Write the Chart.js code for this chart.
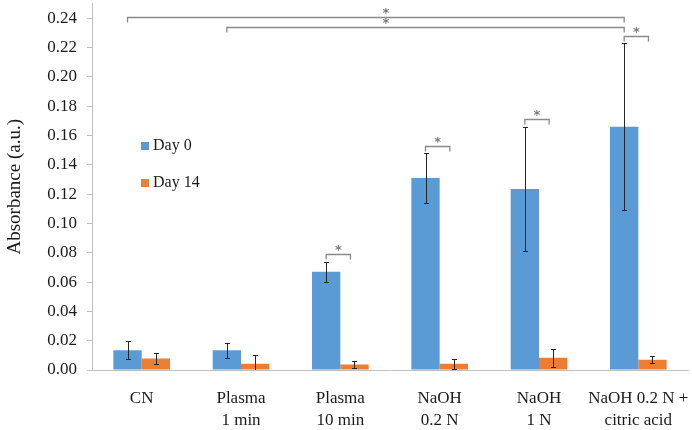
<!DOCTYPE html>
<html><head><meta charset="utf-8">
<script src="https://cdn.jsdelivr.net/npm/chart.js@4.4.0/dist/chart.umd.min.js"></script>
<style>html,body{margin:0;padding:0;background:#fff}#wrap{width:692px;height:430px}</style>
</head><body><div id="wrap"><canvas id="c" width="692" height="430"></canvas></div>
<script>
// ---- data ----
const categories = [['CN'], ['Plasma', '1 min'], ['Plasma', '10 min'], ['NaOH', '0.2 N'], ['NaOH', '1 N'], ['NaOH 0.2 N +', 'citric acid']];
const seriesNames = ['Day 0', 'Day 14'];
const day0 = [0.0135, 0.0135, 0.067, 0.131, 0.1235, 0.166];
const day0Err = [0.006, 0.005, 0.007, 0.017, 0.0425, 0.057];
const day14 = [0.0078, 0.0042, 0.0038, 0.0042, 0.0083, 0.0070];
const day14Err = [0.004, 0.006, 0.0023, 0.0035, 0.0063, 0.0025];
const yTicks = [0, 0.02, 0.04, 0.06, 0.08, 0.10, 0.12, 0.14, 0.16, 0.18, 0.20, 0.22, 0.24];
const yMax = 0.25;
// significance brackets: from [category, series] to [category, series], at level
const bracketFrom = [[0, 0], [1, 0], [2, 0], [3, 0], [4, 0], [5, 0]];
const bracketTo   = [[5, 0], [5, 0], [2, 1], [3, 1], [4, 1], [5, 1]];
const bracketLevel = [0.2408, 0.2340, 0.0791, 0.1528, 0.1710, 0.2278];
const bracketLabel = ['*', '*', '*', '*', '*', '*'];

const BLUE = '#5B9BD5', ORANGE = '#ED7D31';
const FONT = '"Liberation Serif", "DejaVu Serif", serif';
const errs = [day0Err, day14Err];

const errorBars = {
  id: 'errorBars',
  afterDatasetsDraw(chart) {
    const ctx = chart.ctx, y = chart.scales.y, a = chart.chartArea;
    ctx.save();
    ctx.strokeStyle = '#262626';
    ctx.lineWidth = 1;
    chart.data.datasets.forEach((ds, di) => {
      const meta = chart.getDatasetMeta(di);
      meta.data.forEach((bar, i) => {
        const v = ds.data[i], e = errs[di][i];
        const x = Math.round(bar.x) + 0.5;
        const yt = Math.round(y.getPixelForValue(v + e)) + 0.5;
        const yb = Math.min(Math.round(y.getPixelForValue(v - e)) + 0.5, a.bottom);
        ctx.beginPath();
        ctx.moveTo(x, yt); ctx.lineTo(x, yb);
        ctx.moveTo(x - 2.5, yt); ctx.lineTo(x + 2.5, yt);
        if (yb < a.bottom) { ctx.moveTo(x - 2.5, yb); ctx.lineTo(x + 2.5, yb); }
        ctx.stroke();
      });
    });
    ctx.restore();
  }
};

const sigBrackets = {
  id: 'sigBrackets',
  afterDraw(chart) {
    const ctx = chart.ctx, y = chart.scales.y, xs = chart.scales.x;
    ctx.save();
    ctx.strokeStyle = '#8a8a8a';
    ctx.fillStyle = '#7a7a7a';
    ctx.lineWidth = 1.3;
    ctx.font = 'bold 13px "DejaVu Sans", sans-serif';
    ctx.textAlign = 'center';
    ctx.textBaseline = 'middle';
    bracketLevel.forEach((lv, k) => {
      const [c1, s1] = bracketFrom[k], [c2, s2] = bracketTo[k];
      const x1 = chart.getDatasetMeta(s1).data[c1].x;
      let x2 = chart.getDatasetMeta(s2).data[c2].x;
      const wide = c1 !== c2;
      if (!wide) x2 -= 4;
      const yy = Math.round(y.getPixelForValue(lv)) + 0.5;
      const leg = 5;
      ctx.beginPath();
      ctx.moveTo(x1, yy + leg); ctx.lineTo(x1, yy); ctx.lineTo(x2, yy); ctx.lineTo(x2, yy + leg);
      ctx.stroke();
      const sx = wide ? (xs.getPixelForValue(2) + xs.getPixelForValue(3)) / 2 - 4 : (x1 + x2) / 2;
      ctx.fillText(bracketLabel[k], sx, yy - 4);
    });
    ctx.restore();
  }
};

const innerLegend = {
  id: 'innerLegend',
  afterDraw(chart) {
    const ctx = chart.ctx;
    ctx.save();
    ctx.font = '16px ' + FONT;
    ctx.textBaseline = 'middle';
    ctx.textAlign = 'left';
    const x0 = 141, ys = [146, 183];
    chart.data.datasets.forEach((ds, i) => {
      ctx.fillStyle = ds.backgroundColor;
      ctx.fillRect(x0, ys[i] - 4, 8, 8);
      ctx.fillStyle = '#1a1a1a';
      ctx.fillText(ds.label, x0 + 12, ys[i]);
    });
    ctx.restore();
  }
};

new Chart(document.getElementById('c'), {
  type: 'bar',
  data: {
    labels: categories,
    datasets: [
      { label: seriesNames[0], data: day0, backgroundColor: BLUE, borderWidth: 0 },
      { label: seriesNames[1], data: day14, backgroundColor: ORANGE, borderWidth: 0 }
    ]
  },
  options: {
    responsive: false,
    animation: false,
    devicePixelRatio: 1,
    layout: { padding: { left: 0, right: 4, top: 3.5, bottom: 0 } },
    plugins: { legend: { display: false }, tooltip: { enabled: false } },
    datasets: { bar: { categoryPercentage: 0.57, barPercentage: 1.0 } },
    scales: {
      x: {
        grid: { display: false, drawTicks: false },
        border: { display: true, color: '#bfbfbf', width: 1 },
        ticks: { color: '#1a1a1a', font: { family: FONT, size: 17, lineHeight: 1.3 }, padding: 17, maxRotation: 0, autoSkip: false },
        afterFit(s) { s.height = 60; s.paddingLeft = 0; s.paddingRight = 0; }
      },
      y: {
        min: 0, max: yMax,
        grid: { display: true, drawOnChartArea: false, drawTicks: true, tickLength: 5, color: '#bfbfbf' },
        border: { display: true, color: '#bfbfbf', width: 1 },
        ticks: { color: '#1a1a1a', font: { family: FONT, size: 17 }, padding: 10, callback: v => Number(v).toFixed(2) },
        afterBuildTicks(s) { s.ticks = yTicks.map(v => ({ value: v })); },
        title: { display: true, text: 'Absorbance (a.u.)', color: '#1a1a1a', font: { family: FONT, size: 19 }, padding: { top: 4, bottom: 0 } },
        afterFit(s) { s.width = 92; s.paddingTop = 0; s.paddingBottom = 0; }
      }
    }
  },
  plugins: [errorBars, sigBrackets, innerLegend]
});
</script></body></html>
